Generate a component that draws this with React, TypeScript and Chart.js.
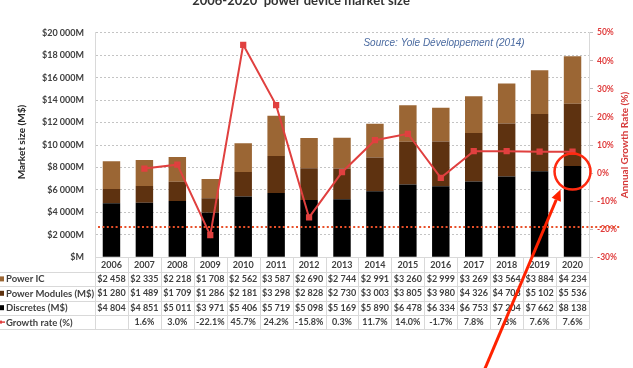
import React, { useEffect, useRef } from "react";
import { Chart, registerables } from "chart.js";

Chart.register(...registerables);

const years = ["2006", "2007", "2008", "2009", "2010", "2011", "2012", "2013", "2014", "2015", "2016", "2017", "2018", "2019", "2020"];
const powerIC = [2458, 2335, 2218, 1708, 2562, 3587, 2690, 2744, 2991, 3260, 2999, 3269, 3564, 3884, 4234];
const powerModules = [1280, 1489, 1709, 1286, 2181, 3298, 2828, 2730, 3003, 3805, 3980, 4326, 4703, 5102, 5536];
const discretes = [4804, 4851, 5011, 3971, 5406, 5719, 5098, 5169, 5890, 6478, 6334, 6753, 7204, 7662, 8138];
const growthRate: (number | null)[] = [null, 1.6, 3.0, -22.1, 45.7, 24.2, -15.8, 0.3, 11.7, 14.0, -1.7, 7.8, 7.8, 7.6, 7.6];

const seriesLabels = ["Power IC", "Power Modules (M$)", "Discretes (M$)", "Growth rate (%)"];
const titleText = "2006-2020  power device market size";
const sourceText = "Source: Yole Développement (2014)";
const leftAxisTitle = "Market size (M$)";
const rightAxisTitle = "Annual Growth Rate (%)";
const thresholdRate = -19.2; // red dotted reference line (on growth axis)
const highlightYear = "2020";
const highlightRate = 0;

const C_IC = "#9b6634";
const C_MOD = "#5e3210";
const C_DIS = "#000000";
const C_LINE = "#e0403f";
const C_TEXT = "#404040";
const C_RED_AX = "#e03c3c";
const C_GRID = "#d9d9d9";
const FONT = "Lato";

const fmtMoney = (v: number) => {
  if (v === 0) return "$M";
  const th = Math.floor(v / 1000);
  const rest = String(v % 1000).padStart(3, "0");
  return th > 0 ? `$${th} ${rest}` : `$${v}`;
};

export default function App() {
  const ref = useRef<HTMLCanvasElement | null>(null);

  useEffect(() => {
    if (!ref.current) return;

    const overlay = {
      id: "overlay",
      afterDraw(chart: any) {
        const ctx = chart.ctx as CanvasRenderingContext2D;
        const xs = chart.scales.x;
        const y1 = chart.scales.y1;
        const area = chart.chartArea;
        const colW = xs.getPixelForValue(1) - xs.getPixelForValue(0);
        const x0 = xs.getPixelForValue(0) - colW / 2;
        const rowH = 14.4;
        const top = area.bottom;
        const n = years.length;
        ctx.save();

        // table grid
        ctx.strokeStyle = C_GRID;
        ctx.lineWidth = 1;
        ctx.setLineDash([]);
        for (let i = 0; i <= n; i++) {
          const bx = Math.round(x0 + i * colW) + 0.5;
          ctx.beginPath();
          ctx.moveTo(bx, top);
          ctx.lineTo(bx, top + rowH * 5);
          ctx.stroke();
        }
        for (let k = 1; k <= 5; k++) {
          const by = Math.round(top + rowH * k) + 0.5;
          ctx.beginPath();
          ctx.moveTo(0, by);
          ctx.lineTo(x0 + n * colW, by);
          ctx.stroke();
        }

        // table values
        const rows: string[][] = [
          powerIC.map(fmtMoney),
          powerModules.map(fmtMoney),
          discretes.map(fmtMoney),
          growthRate.map((g) => (g === null ? "" : `${g.toFixed(1)}%`)),
        ];
        ctx.fillStyle = C_TEXT;
        ctx.font = `bold 9px ${FONT}`;
        ctx.textAlign = "center";
        ctx.textBaseline = "middle";
        rows.forEach((r, ri) => {
          const cy = top + rowH * (ri + 1.5);
          r.forEach((t, i) => {
            ctx.fillText(t, xs.getPixelForValue(i), cy);
          });
        });

        // row labels with legend keys
        const keyColors = [C_IC, C_MOD, C_DIS];
        ctx.textAlign = "left";
        ctx.font = `bold 9.5px ${FONT}`;
        seriesLabels.forEach((lab, ri) => {
          const cy = top + rowH * (ri + 1.5);
          if (ri < 3) {
            ctx.fillStyle = keyColors[ri];
            ctx.fillRect(-1, cy - 2.5, 5, 5);
          } else {
            ctx.strokeStyle = C_LINE;
            ctx.lineWidth = 1.5;
            ctx.beginPath();
            ctx.moveTo(-4, cy);
            ctx.lineTo(5, cy);
            ctx.stroke();
            ctx.fillStyle = C_LINE;
            ctx.fillRect(-1, cy - 1.5, 3, 3);
          }
          ctx.fillStyle = C_TEXT;
          ctx.fillText(lab, 6, cy + 0.5);
        });

        // red dotted reference line
        const ty = y1.getPixelForValue(thresholdRate);
        ctx.strokeStyle = "#e8502a";
        ctx.lineWidth = 2;
        ctx.setLineDash([2, 2.4]);
        ctx.beginPath();
        ctx.moveTo(area.left + 3, ty);
        ctx.lineTo(620, ty);
        ctx.stroke();
        ctx.setLineDash([]);

        // highlight circle + arrow
        const hi = years.indexOf(highlightYear);
        const cx = xs.getPixelForValue(hi);
        const cyc = y1.getPixelForValue(highlightRate) - 1.5;
        ctx.strokeStyle = "#ff2a10";
        ctx.lineWidth = 2.5;
        ctx.beginPath();
        ctx.arc(cx, cyc, 18, 0, Math.PI * 2);
        ctx.stroke();

        const tipX = cx - 12, tipY = cyc + 18;
        const tailX = cx - 89, tailY = chart.height + 4;
        const ang = Math.atan2(tipY - tailY, tipX - tailX);
        const hl = 11, hw = 5;
        const bxp = tipX - hl * Math.cos(ang), byp = tipY - hl * Math.sin(ang);
        ctx.strokeStyle = "#ff2200";
        ctx.lineWidth = 3;
        ctx.beginPath();
        ctx.moveTo(tailX, tailY);
        ctx.lineTo(bxp, byp);
        ctx.stroke();
        ctx.fillStyle = "#ff2200";
        ctx.beginPath();
        ctx.moveTo(tipX, tipY);
        ctx.lineTo(bxp + hw * Math.sin(ang), byp - hw * Math.cos(ang));
        ctx.lineTo(bxp - hw * Math.sin(ang), byp + hw * Math.cos(ang));
        ctx.closePath();
        ctx.fill();

        // title (cut at top)
        ctx.fillStyle = "#333333";
        ctx.font = `bold 13px ${FONT}`;
        ctx.textAlign = "center";
        ctx.textBaseline = "alphabetic";
        ctx.fillText(titleText, 301, 4.5);

        // source
        ctx.fillStyle = "#4a6aa0";
        ctx.font = `italic 10px "Liberation Sans"`;
        ctx.textBaseline = "middle";
        ctx.fillText(sourceText, 444, 43);

        // axis titles
        const midY = (area.top + area.bottom) / 2;
        ctx.save();
        ctx.translate(22, midY - 3);
        ctx.rotate(-Math.PI / 2);
        ctx.fillStyle = "#262626";
        ctx.font = `bold 10px ${FONT}`;
        ctx.fillText(leftAxisTitle, 0, 0);
        ctx.restore();

        ctx.save();
        ctx.translate(625, midY);
        ctx.rotate(-Math.PI / 2);
        ctx.fillStyle = "#d63a3a";
        ctx.font = `bold 10px ${FONT}`;
        ctx.fillText(rightAxisTitle, 0, 0);
        ctx.restore();

        ctx.restore();
      },
    };

    const chart = new Chart(ref.current, {
      type: "bar",
      data: {
        labels: years,
        datasets: [
          {
            type: "line",
            label: seriesLabels[3],
            data: growthRate,
            yAxisID: "y1",
            borderColor: C_LINE,
            backgroundColor: C_LINE,
            borderWidth: 2,
            pointStyle: "rect",
            pointRadius: 3,
            pointBackgroundColor: C_LINE,
            pointBorderColor: C_LINE,
            order: 0,
          } as any,
          {
            label: seriesLabels[2],
            data: discretes,
            backgroundColor: C_DIS,
            yAxisID: "y",
            stack: "m",
            order: 1,
            barPercentage: 0.53,
            categoryPercentage: 1,
          },
          {
            label: seriesLabels[1],
            data: powerModules,
            backgroundColor: C_MOD,
            yAxisID: "y",
            stack: "m",
            order: 1,
            barPercentage: 0.53,
            categoryPercentage: 1,
          },
          {
            label: seriesLabels[0],
            data: powerIC,
            backgroundColor: C_IC,
            yAxisID: "y",
            stack: "m",
            order: 1,
            barPercentage: 0.53,
            categoryPercentage: 1,
          },
        ],
      },
      options: {
        responsive: false,
        animation: false,
        layout: { padding: { top: 32.7, left: 0, right: 0, bottom: 0 } },
        plugins: { legend: { display: false }, tooltip: { enabled: false }, title: { display: false } },
        scales: {
          x: {
            stacked: true,
            grid: { display: false, drawTicks: false },
            border: { display: true, color: C_GRID },
            ticks: { color: C_TEXT, font: { family: FONT, size: 9, weight: "bold" }, padding: 2.3, maxRotation: 0 },
            afterFit: (s: any) => { s.height = 368 - 257.3 - 32.7 + 32.7; },
          },
          y: {
            stacked: true,
            position: "left",
            min: 0,
            max: 20000,
            ticks: {
              stepSize: 2000,
              color: C_TEXT,
              font: { family: FONT, size: 9, weight: "bold" },
              padding: 11,
              callback: (v: any) => (Number(v) === 0 ? "$M" : `${fmtMoney(Number(v))}M`),
            },
            grid: { color: "#c4c4c4", drawTicks: false, lineWidth: 1 },
            border: { display: true, color: C_GRID, dash: [2, 2] } as any,
            afterFit: (s: any) => { s.width = 95; },
          },
          y1: {
            position: "right",
            min: -30,
            max: 50,
            ticks: {
              stepSize: 10,
              color: C_RED_AX,
              font: { family: FONT, size: 8.5, weight: "bold" },
              padding: 4,
              callback: (v: any) => `${v}%`,
            },
            grid: { drawOnChartArea: false, drawTicks: true, tickLength: 4, color: "#bfbfbf" },
            border: { display: true, color: C_GRID },
            afterFit: (s: any) => { s.width = 44; },
          },
        },
      },
      plugins: [overlay],
    });

    return () => chart.destroy();
  }, []);

  return (
    <div style={{ position: "fixed", left: 0, top: 0, width: 633, height: 368, background: "#ffffff" }}>
      <canvas ref={ref} width={633} height={368} style={{ display: "block" }} />
    </div>
  );
}
